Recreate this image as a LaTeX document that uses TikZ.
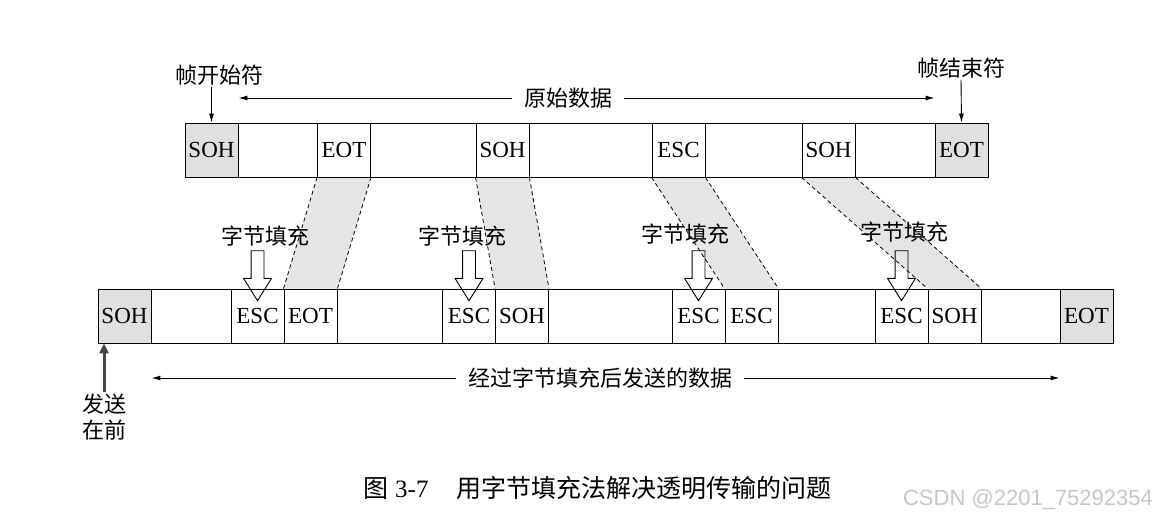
\documentclass[tikz,border=0pt]{standalone}
\usepackage{fontspec}
\setmainfont{Liberation Serif}
\newfontfamily\cjk{Noto Sans CJK SC}
\newfontfamily\wmfont{Liberation Sans}
\usetikzlibrary{arrows.meta,shapes.arrows,calc,backgrounds}

\tikzset{
  rowbox/.style={draw,minimum height=54pt,inner sep=0pt},
  cell/.style={draw,minimum width=53pt,minimum height=54pt,inner sep=0pt,font=\fontsize{23}{23}\selectfont},
  endcell/.style={cell,fill=black!12},
  zh/.style={inner sep=1pt,font=\cjk\fontsize{22}{26}\selectfont},
  datatip/.style={-{Latex[length=9pt,width=5pt]}},
  stuffing/.style={fill=black!10},
  seam/.style={dash pattern=on 4pt off 3pt,line width=.8pt},
  hollow/.style={draw,single arrow,rotate=-90,anchor=tip,minimum height=50pt,inner xsep=0pt,inner ysep=6pt,single arrow head extend=7.5pt,single arrow tip angle=64}
}

\begin{document}
\begin{tikzpicture}[x=1pt,y=-1pt,line width=.9pt]
\path[use as bounding box] (0,0) rectangle (1164,519);
\node[rowbox,minimum width=803pt] (trow) at (586.5,150) {};
\node[endcell] (tsoh1) at (211.5,150) {SOH};
\node[cell] (teot1) at (344,150) {EOT};
\node[cell] (tsoh2) at (502.5,150) {SOH};
\node[cell] (tesc1) at (678.5,150) {ESC};
\node[cell] (tsoh3) at (828.5,150) {SOH};
\node[endcell] (teot2) at (961.5,150) {EOT};
\node[rowbox,minimum width=1015pt] (brow) at (605.5,316) {};
\node[endcell] (bsoh1) at (124.5,316) {SOH};
\node[cell] (besc1) at (257.5,316) {ESC};
\node[cell] (beot1) at (310.5,316) {EOT};
\node[cell] (besc2) at (469,316) {ESC};
\node[cell] (bsoh2) at (522,316) {SOH};
\node[cell] (besc3) at (698.5,316) {ESC};
\node[cell] (besc4) at (751.5,316) {ESC};
\node[cell] (besc5) at (901.5,316) {ESC};
\node[cell] (bsoh3) at (954.5,316) {SOH};
\node[endcell] (beot2) at (1086.5,316) {EOT};
\foreach \a/\b in {teot1/beot1,tsoh2/bsoh2,tesc1/besc4,tsoh3/bsoh3}{
  \begin{scope}[on background layer]
    \fill[stuffing] (\a.south west) -- (\a.south east) -- (\b.north east) -- (\b.north west) -- cycle;
  \end{scope}
  \draw[seam] (\a.south west) -- (\b.north west) (\a.south east) -- (\b.north east);
}
\foreach \c in {besc1,besc2,besc3,besc5}
  \node[hollow] (push-\c) at ($(\c.north)+(0,13)$) {};
\node[zh] (pad1) at (265,236) {字节填充};
\node[zh] (pad2) at (462,236) {字节填充};
\node[zh] (pad3) at (685,234) {字节填充};
\node[zh] (pad4) at (904,232) {字节填充};
\node[zh] (sohlab) at (219,75) {帧开始符};
\node[zh] (eotlab) at (961,68) {帧结束符};
\draw[datatip] (tsoh1.north |- sohlab.south) -- (tsoh1.north);
\draw[datatip] (eotlab.south) -- (teot2.north);
\node[zh,inner xsep=12pt] (rawlab) at (568,98) {原始数据};
\draw[datatip] (rawlab.west) -- (rawlab.west -| tsoh1.east);
\draw[datatip] (rawlab.east) -- (rawlab.east -| teot2.west);
\node[zh,inner xsep=12pt] (sentlab) at (600,378) {经过字节填充后发送的数据};
\draw[datatip] (sentlab.west) -- (sentlab.west -| bsoh1.east);
\draw[datatip] (sentlab.east) -- (sentlab.east -| beot2.west);
\node[zh,align=center] (firstlab) at (104,417) {发送\\在前};
\draw[gray!55!black,line width=3pt,-{Triangle[length=10pt,width=9pt]}] (firstlab.north) -- (firstlab.north |- brow.south);
\node[inner sep=0pt,font=\fontsize{25}{25}\selectfont] (caption) at (597.5,488) {{\cjk 图} 3-7\hspace{1.1em}{\cjk 用字节填充法解决透明传输的问题}};
\node[inner sep=0pt,text=black!22,font=\wmfont\fontsize{22}{22}\selectfont] (wmark) at (1028,500) {CSDN @2201\_75292354};
\end{tikzpicture}
\end{document}
